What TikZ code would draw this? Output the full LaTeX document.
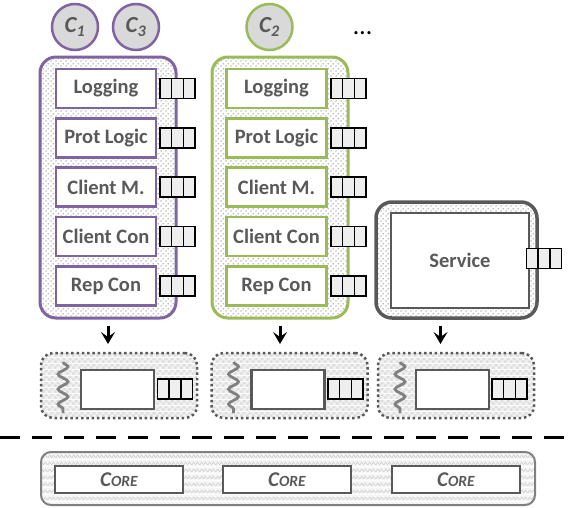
\documentclass[tikz,border=0pt]{standalone}
\usepackage{fontspec}
\setmainfont{Carlito}
\usetikzlibrary{patterns.meta,arrows.meta,decorations.pathmorphing}
\definecolor{purp}{HTML}{8064A2}
\definecolor{grn}{HTML}{9BBB59}
\definecolor{dgray}{HTML}{595959}
\definecolor{cfill}{HTML}{D9D9D9}
\definecolor{qfill}{HTML}{EEEEEE}
\tikzdeclarepattern{name=dotsp, type=colored, bottom left={(0pt,0pt)}, top right={(5pt,5pt)}, tile size={(5pt,5pt)},
  code={\fill[black!50] (1.25pt,1.25pt) circle (0.8pt); \fill[black!50] (3.75pt,3.75pt) circle (0.8pt);}}
\tikzdeclarepattern{name=checkp, type=colored, bottom left={(0pt,0pt)}, top right={(6pt,6pt)}, tile size={(6pt,6pt)},
  code={\fill[black!5] (0pt,0pt) rectangle (6pt,6pt); \fill[black!13] (0pt,0pt) rectangle (3pt,3pt); \fill[black!13] (3pt,3pt) rectangle (6pt,6pt);}}
\tikzdeclarepattern{name=wavep, type=colored, bottom left={(0pt,0pt)}, top right={(8pt,7pt)}, tile size={(8pt,7pt)},
  code={\fill[black!4] (0pt,0pt) rectangle (8pt,7pt); \draw[black!20, line width=0.6pt] (0pt,1.5pt) -- (2pt,4.5pt) -- (4pt,1.5pt) -- (6pt,4.5pt) -- (8pt,1.5pt);}}
\tikzset{
  base/.style={inner sep=0pt, outer sep=0pt},
  client/.style={base, circle, minimum size=46pt, fill=cfill, line width=2.5pt, font=\fontsize{23}{25}\selectfont\bfseries\itshape, text=dgray},
  cont/.style={base, rectangle, rounded corners=16pt, line width=3pt, preaction={fill=white}, pattern=dotsp},
  inbox/.style={base, rectangle, line width=2.5pt, fill=white, minimum width=100pt, minimum height=39pt, font=\fontsize{20.5}{23}\selectfont\bfseries, text=dgray},
  queue/.style={base, rectangle, draw=black, line width=1.5pt, fill=qfill, minimum width=35pt, minimum height=20pt,
    path picture={\draw[black, line width=1.5pt] ([xshift=11.67pt]path picture bounding box.south west) -- ([xshift=11.67pt]path picture bounding box.north west)
      ([xshift=-11.67pt]path picture bounding box.south east) -- ([xshift=-11.67pt]path picture bounding box.north east);}},
  low/.style={base, rectangle, rounded corners=12pt, draw=dgray, line width=2.5pt, dash pattern=on 2.5pt off 2.8pt, pattern=checkp, minimum width=156pt, minimum height=65pt},
  lowin/.style={base, rectangle, draw=dgray, line width=2.5pt, fill=white, minimum width=73pt, minimum height=39pt},
  squig/.style={draw=black!50, line width=2.8pt, decorate, decoration={snake, amplitude=5pt, segment length=15pt}},
  arr/.style={-{Stealth[length=12pt, width=14pt, inset=5pt]}, line width=3pt, black, shorten <=8pt, shorten >=9pt},
  corebox/.style={base, rectangle, draw=dgray, line width=2pt, fill=white, minimum width=128pt, minimum height=27pt, text=dgray},
}
\newcommand{\coretxt}{\bfseries\itshape{\fontsize{21}{22}\selectfont C}{\fontsize{15.5}{17}\selectfont ORE}}
\begin{document}
\begin{tikzpicture}[x=1pt, y=-1pt]
\useasboundingbox (0,0) rectangle (574,507);
% clients
\node[client, draw=purp] (c1) at (75,27) {C\textsubscript{1}};
\node[client, draw=purp] (c3) at (136,27) {C\textsubscript{3}};
\node[client, draw=grn] (c2) at (269.5,27) {C\textsubscript{2}};
\node[base, anchor=base, font=\fontsize{26}{28}\selectfont] (dots) at (362.5,34) {\ldots};
% containers
\node[cont, draw=purp, minimum width=136pt, minimum height=261pt] (pc) at (108,187.5) {};
\node[cont, draw=grn, minimum width=136pt, minimum height=261pt] (gc) at (280,187.5) {};
\node[cont, draw=dgray, line width=3.5pt, minimum width=161pt, minimum height=116pt] (sc) at (456.5,260) {};
% purple stack
\node[inbox, draw=purp] (p1) at (106,88.5) {Logging};
\node[inbox, draw=purp] (p2) at (106,138) {Prot Logic};
\node[inbox, draw=purp] (p3) at (106,187) {Client M.};
\node[inbox, draw=purp] (p4) at (106,236.5) {Client Con};
\node[inbox, draw=purp] (p5) at (106,286) {Rep Con};
\foreach \i/\y in {1/88.5,2/138,3/187,4/236.5,5/286} {\node[queue] (pq\i) at (177.5,\y) {};}
% green stack
\node[inbox, draw=grn] (g1) at (276.5,88.5) {Logging};
\node[inbox, draw=grn] (g2) at (276.5,138) {Prot Logic};
\node[inbox, draw=grn] (g3) at (276.5,187) {Client M.};
\node[inbox, draw=grn] (g4) at (276.5,236.5) {Client Con};
\node[inbox, draw=grn] (g5) at (276.5,286) {Rep Con};
\foreach \i/\y in {1/88.5,2/138,3/187,4/236.5,5/286} {\node[queue] (gq\i) at (348.5,\y) {};}
% service
\node[inbox, draw=dgray, minimum width=138pt, minimum height=95pt] (sv) at (460,260.5) {Service};
\node[queue] (sq) at (544,258.5) {};
% lower boxes
\node[low] (l1) at (119,385.5) {};
\node[low] (l2) at (289.5,385.5) {};
\node[low] (l3) at (456,385.5) {};
\node[lowin] (li1) at (117.5,389.5) {};
\node[lowin] (li2) at (288,389.5) {};
\node[lowin] (li3) at (452.5,389.5) {};
\node[queue] (lq1) at (175,389) {};
\node[queue] (lq2) at (345.5,389) {};
\node[queue] (lq3) at (509.5,389) {};
\coordinate (s1a) at (63,362); \coordinate (s1b) at (63,413);
\coordinate (s2a) at (233.5,362); \coordinate (s2b) at (233.5,413);
\coordinate (s3a) at (400,362); \coordinate (s3b) at (400,413);
\draw[squig] (s1a) -- (s1b);
\draw[squig] (s2a) -- (s2b);
\draw[squig] (s3a) -- (s3b);
% arrows
\draw[arr] (pc.south) -- (l1.north -| pc.south);
\draw[arr] (gc.south) -- (l2.north -| gc.south);
\draw[arr] ([xshift=-16pt]sc.south) -- ([xshift=-16pt]l3.north -| sc.south);
% dashed line
\coordinate (dl) at (0,437); \coordinate (dr) at (574,437);
\draw[line width=3pt, dash pattern=on 20pt off 12pt] (dl) -- (dr);
% core
\node[base, rectangle, rounded corners=10pt, draw=black!50, line width=2pt, pattern=wavep, minimum width=494pt, minimum height=53pt] (core) at (288,478.5) {};
\node[corebox] (k1) at (119,479.5) {\coretxt};
\node[corebox] (k2) at (287,479.5) {\coretxt};
\node[corebox] (k3) at (456,479.5) {\coretxt};
\end{tikzpicture}
\end{document}
